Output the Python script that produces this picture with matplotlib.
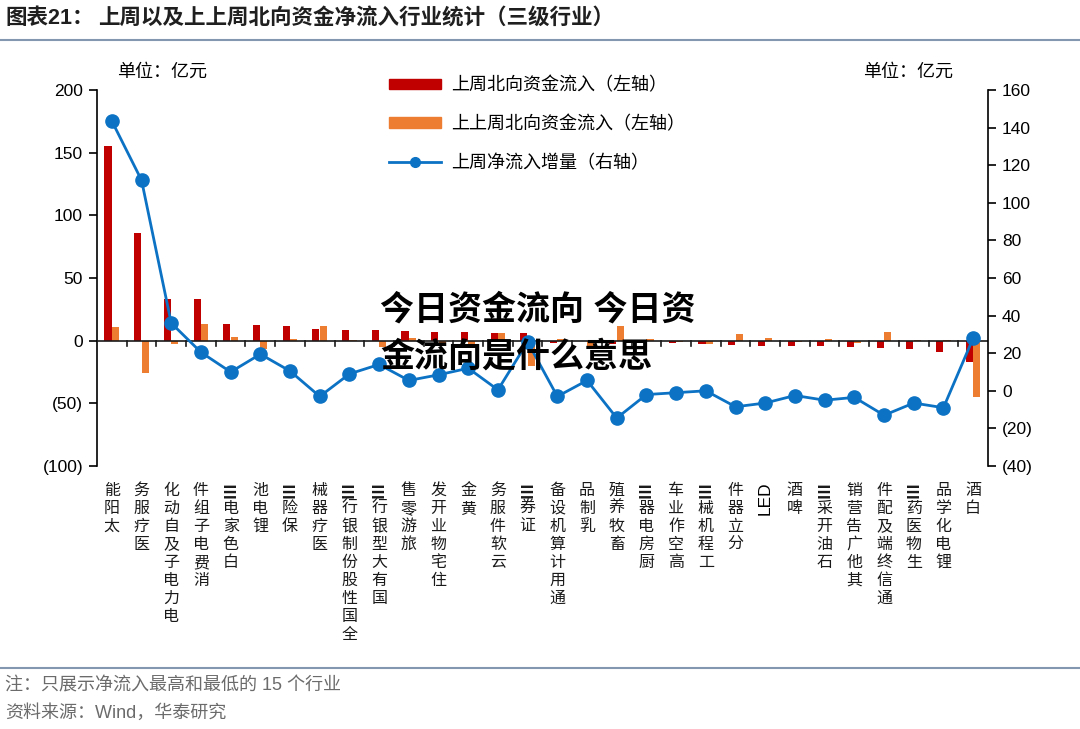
import matplotlib
matplotlib.use("Agg")
import matplotlib.pyplot as plt
from matplotlib.lines import Line2D
from matplotlib.patches import Patch
from matplotlib.ticker import FuncFormatter

plt.rcParams['font.family'] = ['Liberation Sans', 'Noto Sans CJK SC']
plt.rcParams['axes.unicode_minus'] = False

# 数据（单位：亿元）
categories = ['太阳能', '医疗服务', '电力电子及自动化', '消费电子组件', '白色家电Ⅲ', '锂电池',
              '保险Ⅲ', '医疗器械', '全国性股份制银行Ⅲ', '国有大型银行Ⅲ', '旅游零售', '住宅物业开发',
              '黄金', '云软件服务', '证券Ⅲ', '通用计算机设备', '乳制品', '畜牧养殖', '厨房电器Ⅲ',
              '高空作业车', '工程机械Ⅲ', '分立器件', 'LED', '啤酒', '石油开采Ⅲ', '其他广告营销',
              '通信终端及配件', '生物医药Ⅲ', '锂电化学品', '白酒']
last_week = [155, 86, 33, 33, 13, 12.5, 12, 9.5, 8.5, 8.5, 7.5, 7, 7, 6.5, 6, -2, -0.5, -2.5,
             -1, -2, -2.5, -3.5, -4, -4, -4, -5, -6, -6.5, -9, -17]
prev_week = [11, -26, -2.5, 13, 3, -7, 1, 12, 0.5, -5, 2, -1.5, -5, 6, -20, 1, -6, 12,
             1, -1, -2.5, 5, 2, -1, 1, -1.5, 7, 0.5, 0.5, -45]
net_change = [143.5, 112, 36, 20.5, 10, 19.5, 10.5, -3, 9, 14, 5.5, 8.5, 12, 0.5, 26, -3, 5.5, -14.5,
              -2, -1, 0, -8.5, -6.5, -2.5, -5, -3.5, -13, -6.5, -9, 28]

RED = '#c00000'
ORANGE = '#ed7d31'
BLUE = '#0b72c4'
GRID_LINE = '#8497b0'


def paren_fmt(v, pos):
    if v < 0:
        return f'({abs(int(round(v)))})'
    return f'{int(round(v))}'


def draw_xlabel(ax, x, text):
    # 竖排标签：从下往上读，最后一个字在最上面
    off = 11.0
    step = 13.0
    if text == 'LED':
        ax.annotate('LED', xy=(x, 0), xycoords=('data', 'axes fraction'),
                    xytext=(0, -off), textcoords='offset points', ha='center', va='top',
                    rotation=90, fontsize=12.5, annotation_clip=False)
        return
    for j, tok in enumerate(reversed(list(text))):
        rot = 90 if tok == 'Ⅲ' else 0
        ax.annotate(tok, xy=(x, 0), xycoords=('data', 'axes fraction'),
                    xytext=(0, -(off + step / 2 + j * step)), textcoords='offset points',
                    ha='center', va='center', rotation=rot, fontsize=11.5,
                    fontweight='bold' if tok == 'Ⅲ' else 'normal',
                    annotation_clip=False, color='#1a1a1a')


fig = plt.figure(figsize=(10.8, 7.29), dpi=100)
ax = fig.add_axes([97 / 1080, 1 - 466 / 729, (988 - 97) / 1080, (466 - 90) / 729])
ax2 = ax.twinx()

n = len(categories)
xs = list(range(n))
ax.bar([x - 0.13 for x in xs], last_week, width=0.24, color=RED, zorder=2)
ax.bar([x + 0.12 for x in xs], prev_week, width=0.24, color=ORANGE, zorder=2)

ax2.plot(xs, net_change, color=BLUE, lw=2.0, marker='o', markersize=9.5, zorder=3)

ax.set_xlim(-0.5, n - 0.5)
ax.set_ylim(-100, 200)
ax.set_yticks(range(-100, 201, 50))
ax2.set_ylim(-40, 160)
ax2.set_yticks(range(-40, 161, 20))
ax.yaxis.set_major_formatter(FuncFormatter(paren_fmt))
ax2.yaxis.set_major_formatter(FuncFormatter(paren_fmt))

for a in (ax, ax2):
    a.spines['top'].set_visible(False)
    a.spines['bottom'].set_visible(False)
    a.tick_params(axis='y', direction='out', length=6, width=1.2, labelsize=12.5, pad=4)
ax.spines['left'].set_linewidth(1.2)
ax2.spines['right'].set_linewidth(1.2)
ax.spines['right'].set_visible(False)
ax2.spines['left'].set_visible(False)

# 零轴与分隔刻度
ax.axhline(0, color='#1a1a1a', lw=1.2, zorder=4)
ax.set_xticks([])
for b in range(1, n):
    ax.plot([b - 0.5, b - 0.5], [0, -4], color='#1a1a1a', lw=1.2, zorder=4, clip_on=False)

for x, c in zip(xs, categories):
    draw_xlabel(ax, x, c)

# 图例
handles = [Patch(color=RED), Patch(color=ORANGE),
           Line2D([], [], color=BLUE, lw=2.0, marker='o', markersize=7)]
labels = ['上周北向资金流入（左轴）', '上上周北向资金流入（左轴）', '上周净流入增量（右轴）']
fig.legend(handles, labels, loc='upper left', bbox_to_anchor=(380 / 1080, 1 - 68 / 729),
           frameon=False, fontsize=13, handlelength=2.9, handleheight=0.55,
           labelspacing=1.2, handletextpad=0.55, borderpad=0)

fig.text(162 / 1080, 1 - 72 / 729, '单位：亿元', ha='center', va='center', fontsize=13)
fig.text(908 / 1080, 1 - 72 / 729, '单位：亿元', ha='center', va='center', fontsize=13)

# 标题与页脚
fig.text(5 / 1080, 1 - 19 / 729, '图表21：', ha='left', va='center', fontsize=15.5,
         fontweight='bold', color='#1f1f1f')
fig.text(98 / 1080, 1 - 19 / 729, '上周以及上上周北向资金净流入行业统计（三级行业）', ha='left',
         va='center', fontsize=15.5, fontweight='bold', color='#1f1f1f')
fig.add_artist(Line2D([0, 1], [1 - 40 / 729, 1 - 40 / 729], color=GRID_LINE, lw=1.5,
                      transform=fig.transFigure))
fig.add_artist(Line2D([0, 1], [1 - 668 / 729, 1 - 668 / 729], color=GRID_LINE, lw=1.5,
                      transform=fig.transFigure))
fig.text(5 / 1080, 1 - 686 / 729, '注：只展示净流入最高和最低的 15 个行业', ha='left', va='center',
         fontsize=13, color='#6b6b6b')
fig.text(5 / 1080, 1 - 713 / 729, '资料来源：Wind，华泰研究', ha='left', va='center',
         fontsize=13, color='#6b6b6b')

# 叠加文字
fig.text(380 / 1080, 1 - 310 / 729, '今日资金流向 今日资', ha='left', va='center', fontsize=24.5,
         fontweight='bold', color='black', zorder=10)
fig.text(380 / 1080, 1 - 357 / 729, '金流向是什么意思', ha='left', va='center', fontsize=24.5,
         fontweight='bold', color='black', zorder=10)

fig.savefig('out.png', dpi=100)
